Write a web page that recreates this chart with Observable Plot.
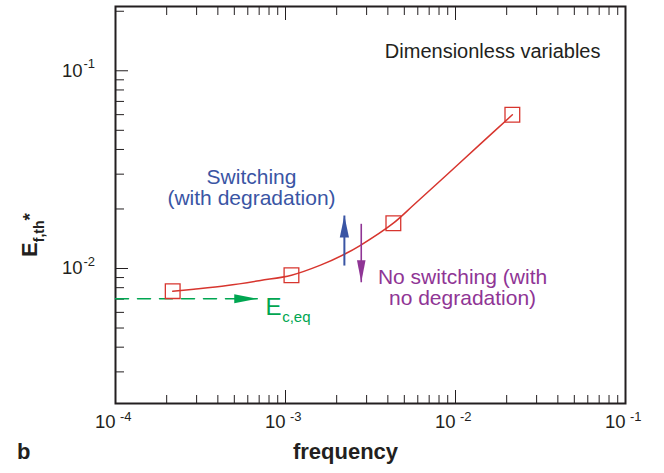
<!DOCTYPE html>
<html><head><meta charset="utf-8">
<script src="https://cdn.jsdelivr.net/npm/d3@7"></script>
<script src="https://cdn.jsdelivr.net/npm/@observablehq/plot@0.6"></script>
<style>body{margin:0;background:#fff} svg{display:block}</style>
</head><body><div id="chart"></div>
<script>
// ---- data ----
const curveF = [2.17e-4, 2.89e-4, 4.54e-4, 7.13e-4, 1.084e-3, 1.607e-3, 2.22e-3, 2.76e-3, 4.31e-3, 5.69e-3, 8.93e-3, 1.403e-2, 2.16e-2];
const curveE = [0.00768, 0.00786, 0.00820, 0.00870, 0.00925, 0.0104, 0.0118, 0.0131, 0.01695, 0.0210, 0.0299, 0.0427, 0.0599];
const squareF = [2.17e-4, 1.084e-3, 4.31e-3, 2.16e-2];
const squareE = [0.00768, 0.00925, 0.01695, 0.0599];
const ecEqValue = 0.00703;
const ecEqFrom = 1e-4, ecEqTo = 6.82e-4;
const xMajor = [1e-4, 1e-3, 1e-2, 1e-1];
const xMinor = [2e-4,3e-4,4e-4,5e-4,6e-4,7e-4,8e-4,9e-4,2e-3,3e-3,4e-3,5e-3,6e-3,7e-3,8e-3,9e-3,2e-2,3e-2,4e-2,5e-2,6e-2,7e-2,8e-2,9e-2];
const xExp = ["-4", "-3", "-2", "-1"];
const yMajor = [0.01, 0.1];
const yMinor = [0.003,0.004,0.005,0.006,0.007,0.008,0.009,0.02,0.03,0.04,0.05,0.06,0.07,0.08,0.09,0.2];
const yExp = ["-2", "-1"];
const switchArrow = {f: 2.22e-3, from: 0.01035, to: 0.01853};
const noSwitchArrow = {f: 2.79e-3, from: 0.01683, to: 0.00852};

// ---- build ----
const FONT = "'Liberation Sans', Arial, Helvetica, sans-serif";
const INK = "#231f20", RED = "#d7352e", BLUE = "#3a55a4", PURPLE = "#8f3595", GREEN = "#00a651";
const curve = curveF.map((f, i) => ({f, e: curveE[i]}));
const squares = squareF.map((f, i) => ({f, e: squareE[i]}));

const headUp = {draw(c) { c.moveTo(0, 0); c.lineTo(4.6, 22); c.lineTo(-4.6, 22); c.closePath(); }};
const headDown = {draw(c) { c.moveTo(0, 0); c.lineTo(4.3, -22); c.lineTo(-4.3, -22); c.closePath(); }};
const headRight = {draw(c) { c.moveTo(0, 0); c.lineTo(-23, 4.5); c.lineTo(-23, -4.5); c.closePath(); }};

const noText = () => "";
const plot = Plot.plot({
  width: 664, height: 473,
  marginLeft: 115, marginRight: 39, marginTop: 6, marginBottom: 70,
  style: {fontFamily: FONT, background: "white"},
  x: {type: "log", domain: [1e-4, 1e-1], axis: null},
  y: {type: "log", domain: [0.002076, 0.2114], axis: null},
  marks: [
    // inward ticks
    Plot.axisX(xMajor, {anchor: "bottom", tickSize: 13, dy: -13, tickFormat: noText, label: null, stroke: INK}),
    Plot.axisX(xMinor, {anchor: "bottom", tickSize: 8, dy: -8, tickFormat: noText, label: null, stroke: INK}),
    Plot.axisX(xMajor, {anchor: "top", tickSize: 13, dy: 13, tickFormat: noText, label: null, stroke: INK}),
    Plot.axisX(xMinor, {anchor: "top", tickSize: 8, dy: 8, tickFormat: noText, label: null, stroke: INK}),
    Plot.axisY(yMajor, {anchor: "left", tickSize: 13, dx: 13, tickFormat: noText, label: null, stroke: INK}),
    Plot.axisY(yMinor, {anchor: "left", tickSize: 9, dx: 9, tickFormat: noText, label: null, stroke: INK}),
    Plot.frame({stroke: INK, strokeWidth: 2}),
    // tick labels
    Plot.text(xMajor, {x: d => d, frameAnchor: "bottom", text: () => "10", textAnchor: "end", dy: 24.5, fontSize: 18.5, fill: INK}),
    Plot.text(xMajor, {x: d => d, frameAnchor: "bottom", text: (d, i) => xExp[i], textAnchor: "start", dx: 4.5, dy: 17.8, fontSize: 13, fill: INK}),
    Plot.text(yMajor, {y: d => d, frameAnchor: "left", text: () => "10", textAnchor: "end", dx: -33, fontSize: 18.5, fill: INK}),
    Plot.text(yMajor, {y: d => d, frameAnchor: "left", text: (d, i) => yExp[i], textAnchor: "start", dx: -32, dy: -6.5, fontSize: 13, fill: INK}),
    // Ec,eq dashed line + arrow
    Plot.line([{f: ecEqFrom, e: ecEqValue}, {f: ecEqTo, e: ecEqValue}], {x: "f", y: "e", stroke: GREEN, strokeWidth: 1.5, strokeDasharray: "13,9"}),
    Plot.dot([{f: ecEqTo, e: ecEqValue}], {x: "f", y: "e", symbol: headRight, fill: GREEN, stroke: "none"}),
    // curve and squares
    Plot.line(curve, {x: "f", y: "e", stroke: RED, strokeWidth: 1.5, curve: "catmull-rom"}),
    Plot.dot(squares, {x: "f", y: "e", symbol: "square", r: 8.3, stroke: RED, fill: "none", strokeWidth: 1.3}),
    // switching arrows
    Plot.link([switchArrow], {x1: "f", x2: "f", y1: "from", y2: "to", stroke: BLUE, strokeWidth: 2}),
    Plot.dot([switchArrow], {x: "f", y: "to", symbol: headUp, fill: BLUE, stroke: "none"}),
    Plot.link([noSwitchArrow], {x1: "f", x2: "f", y1: "from", y2: "to", stroke: PURPLE, strokeWidth: 1.6}),
    Plot.dot([noSwitchArrow], {x: "f", y: "to", symbol: headDown, fill: PURPLE, stroke: "none"}),
    // annotations
    Plot.text(["Dimensionless variables"], {frameAnchor: "top-right", text: d => d, textAnchor: "end", dx: -25, dy: 36.8, fontSize: 20, fill: INK}),
    Plot.text([{f: 6.31e-4, e: 0.02554}], {x: "f", y: "e", text: () => "Switching\n(with degradation)", fontSize: 21, lineHeight: 1.0, fill: BLUE}),
    Plot.text([{f: 0.011, e: 0.0080}], {x: "f", y: "e", text: () => "No switching (with\nno degradation)", fontSize: 21, lineHeight: 1.02, fill: PURPLE}),
    Plot.text([{f: 7.63e-4, e: 0.00633}], {x: "f", y: "e", text: () => "E", textAnchor: "start", fontSize: 24, fill: GREEN}),
    Plot.text([{f: 9.56e-4, e: 0.00566}], {x: "f", y: "e", text: () => "c,eq", textAnchor: "start", fontSize: 15, fill: GREEN}),
    // axis title and panel letter
    Plot.text(["frequency"], {frameAnchor: "bottom", text: d => d, dx: -25, dy: 55, fontSize: 22, fontWeight: "bold", fill: INK}),
    Plot.text(["b"], {frameAnchor: "bottom-left", text: d => d, textAnchor: "start", dx: -98.5, dy: 55, fontSize: 22, fontWeight: "bold", fill: INK})
  ]
});

// y-axis title with subscript / superscript
const t = d3.select(plot).append("text")
  .attr("transform", "translate(37.3,235) rotate(-90)")
  .attr("font-family", FONT).attr("font-weight", "bold").attr("fill", INK);
t.append("tspan").attr("font-size", 22).text("E");
t.append("tspan").attr("font-size", 14).attr("dy", 6.5).text("f,th");
t.append("tspan").attr("font-size", 19).attr("dy", -8).text("*");

document.getElementById("chart").append(plot);
</script>
</body></html>
